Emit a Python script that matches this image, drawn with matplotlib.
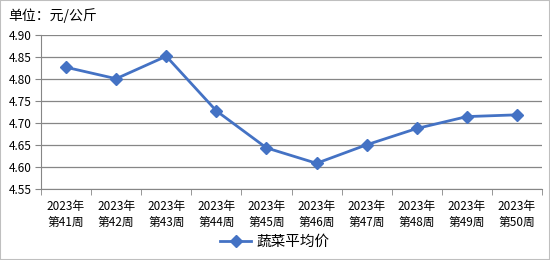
import numpy as np
from matplotlib import pyplot as plt
from matplotlib.patches import Rectangle

plt.rcParams['font.family'] = ['Noto Sans CJK SC', 'DejaVu Sans']

# data
weeks = ["2023年\n第41周", "2023年\n第42周", "2023年\n第43周", "2023年\n第44周", "2023年\n第45周",
         "2023年\n第46周", "2023年\n第47周", "2023年\n第48周", "2023年\n第49周", "2023年\n第50周"]
prices = [4.827, 4.801, 4.852, 4.728, 4.644, 4.609, 4.651, 4.688, 4.715, 4.719]
yticks = [4.55, 4.60, 4.65, 4.70, 4.75, 4.80, 4.85, 4.90]

fig = plt.figure(figsize=(5.5, 2.6), dpi=100)
ax = fig.add_axes([0.0745, 0.272, 0.911, 0.593])

x = np.arange(len(weeks))
ax.plot(x, prices, color='#4472C4', lw=2, marker='D', ms=6.5, label='蔬菜平均价')

ax.set_xlim(-0.5, len(weeks) - 0.5)
ax.set_ylim(4.55, 4.90)
ax.set_yticks(yticks)
ax.set_yticklabels([f"{v:.2f}" for v in yticks], fontsize=8.5)
ax.set_xticks(x)
ax.set_xticklabels(weeks, fontsize=8.5, linespacing=1.3)
ax.set_xticks(np.arange(-0.5, len(weeks), 1), minor=True)
ax.tick_params(axis='x', which='major', length=0, pad=8)
ax.tick_params(axis='x', which='minor', length=4, color='#868686')
ax.tick_params(axis='y', length=4, color='#868686', pad=3)

ax.grid(axis='y', color='#868686', lw=0.9)
ax.set_axisbelow(True)
for s in ['top', 'right']:
    ax.spines[s].set_visible(False)
ax.spines['left'].set_color('#868686')
ax.spines['bottom'].set_color('#868686')

fig.text(0.015, 0.94, '单位：元/公斤', fontsize=10, va='center')
fig.legend(loc='center', bbox_to_anchor=(0.5, 0.07), frameon=False, fontsize=10.5,
           handlelength=2.1, handletextpad=0.4)

fig.patches.append(Rectangle((0, 0), 1, 1, transform=fig.transFigure, fill=False,
                             edgecolor='#bfbfbf', lw=1.5))

fig.savefig('out.png', dpi=100)
